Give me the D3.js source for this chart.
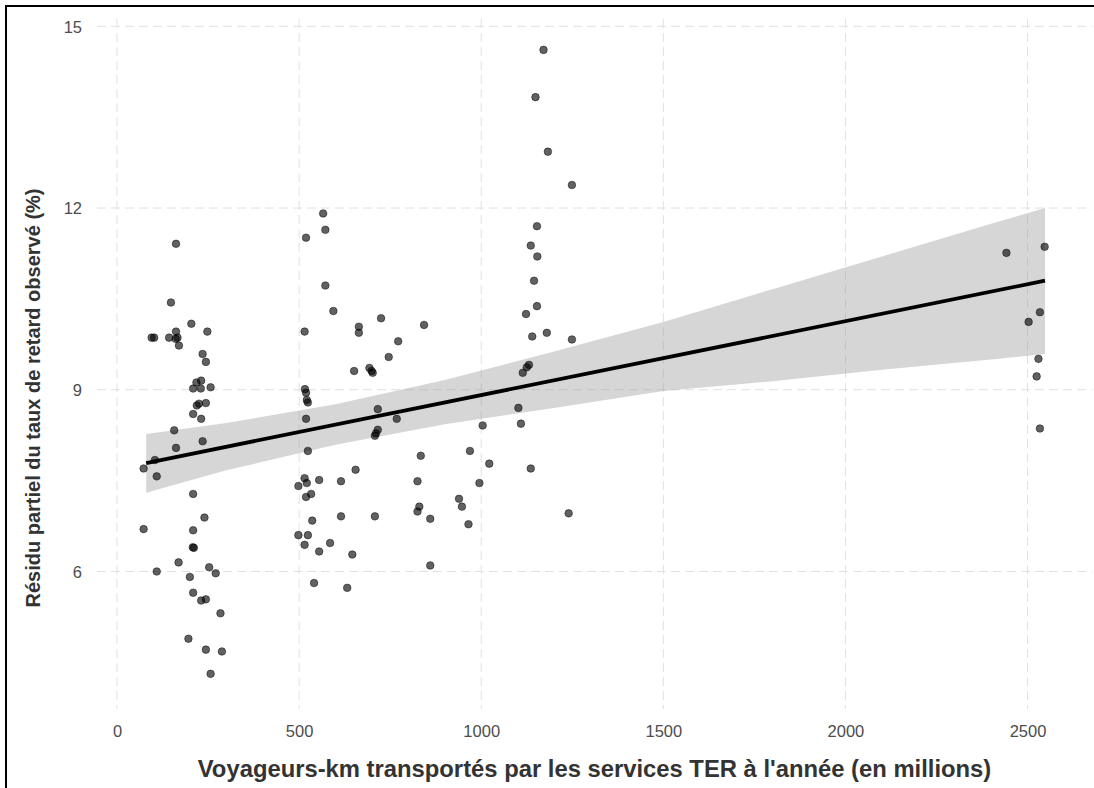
<!DOCTYPE html>
<html lang="fr">
<head>
<meta charset="utf-8">
<title>Résidu partiel du taux de retard</title>
<script src="https://cdn.jsdelivr.net/npm/d3@7"></script>
<style>
  html, body { margin: 0; padding: 0; background: #fff; }
  svg text { font-family: "Liberation Sans", Arial, sans-serif; }
  .tick-label { font-size: 16.5px; fill: #4d4d4d; }
  .axis-title { font-weight: bold; fill: #333333; }
  .x-title { font-size: 23.8px; }
  .y-title { font-size: 20px; }
</style>
</head>
<body>
<svg id="chart" width="1094" height="788"></svg>
<script>
// Voyageurs-km (millions) of each observation
const pointX = [
  162, 148, 204, 248, 162, 95, 102, 143, 166, 161, 170, 235, 244, 218, 231, 209, 230, 257,
  219, 225, 244, 209, 231, 157, 162, 235, 104, 73, 109, 209, 240, 73, 209, 208, 211, 169,
  109, 200, 253, 271, 209, 231, 244, 284, 196, 244, 288, 257,
  566, 572, 519, 572, 594, 515, 664, 664, 725, 843, 772, 746, 651, 693, 702, 699, 516, 519,
  521, 524, 519, 716, 768, 716, 708, 711, 524, 834, 655, 515, 521, 498, 555, 615, 825, 533,
  519, 830, 825, 860, 536, 615, 708, 498, 524, 515, 585, 555, 646, 860, 541, 632,
  1004, 969, 1022, 995, 939, 947, 965,
  1171, 1149, 1183, 1249, 1153, 1136, 1154, 1145, 1153, 1123, 1140, 1180, 1249, 1131, 1125, 1114,
  1102, 1109, 1136, 1240,
  2442, 2547, 2534, 2503, 2530, 2525, 2534
];
// partial residual of the delay rate (%)
const pointY = [
  11.41, 10.44, 10.09, 9.96, 9.96, 9.86, 9.86, 9.86, 9.86, 9.84, 9.73, 9.59, 9.46, 9.12, 9.15, 9.02, 9.02, 9.04,
  8.74, 8.77, 8.78, 8.60, 8.52, 8.33, 8.04, 8.15, 7.84, 7.70, 7.57, 7.28, 6.89, 6.70, 6.68, 6.40, 6.39, 6.15,
  6.00, 5.91, 6.07, 5.97, 5.65, 5.52, 5.54, 5.31, 4.89, 4.71, 4.68, 4.31,
  11.91, 11.64, 11.51, 10.72, 10.30, 9.96, 10.04, 9.94, 10.18, 10.07, 9.80, 9.54, 9.31, 9.36, 9.28, 9.31, 9.01, 8.95,
  8.83, 8.79, 8.52, 8.68, 8.52, 8.34, 8.24, 8.28, 7.99, 7.91, 7.68, 7.54, 7.46, 7.41, 7.51, 7.49, 7.49, 7.28,
  7.23, 7.07, 6.99, 6.87, 6.84, 6.91, 6.91, 6.60, 6.60, 6.44, 6.47, 6.33, 6.28, 6.10, 5.81, 5.73,
  8.41, 7.99, 7.78, 7.46, 7.20, 7.07, 6.78,
  14.61, 13.83, 12.93, 12.38, 11.70, 11.38, 11.20, 10.80, 10.38, 10.25, 9.88, 9.94, 9.83, 9.41, 9.37, 9.28,
  8.70, 8.44, 7.70, 6.96,
  11.26, 11.36, 10.28, 10.12, 9.51, 9.22, 8.36
];

// linear fit and its confidence band
const fitX = [80, 2548];
const fitY = [7.79, 10.80];
const bandX = [80, 300, 600, 900, 1200, 1500, 1800, 2100, 2400, 2548];
const bandLo = [7.30, 7.67, 8.09, 8.43, 8.70, 8.98, 9.14, 9.33, 9.50, 9.59];
const bandHi = [8.27, 8.45, 8.76, 9.16, 9.63, 10.12, 10.66, 11.20, 11.74, 12.00];

const xTicks = [0, 500, 1000, 1500, 2000, 2500];
const yTicks = [6, 9, 12, 15];

const xTitle = "Voyageurs-km transportés par les services TER à l'année (en millions)";
const yTitle = "Résidu partiel du taux de retard observé (%)";

class PartialResidualPlot {
    constructor(selector) {
        this.svg = d3.select(selector);
        this.width = +this.svg.attr("width");
        this.height = +this.svg.attr("height");
        // panel box in pixels
        this.panel = { left: 97, right: 1092, top: 19, bottom: 709 };

        this.xScale = d3.scaleLinear()
            .domain([-55, 2677])
            .range([this.panel.left, this.panel.right]);
        this.yScale = d3.scaleLinear()
            .domain([3.73, 15.12])
            .range([this.panel.bottom, this.panel.top]);
    }

    render() {
        this.drawGrid();
        this.drawBand();
        this.drawPoints();
        this.drawFit();
        this.drawAxes();
        this.drawFrame();
    }

    drawGrid() {
        const p = this.panel;
        const grid = this.svg.append("g")
            .attr("stroke", "#e0e0e0")
            .attr("stroke-width", 1)
            .attr("stroke-dasharray", "9,5");

        grid.selectAll("line.vgrid")
            .data(xTicks)
            .enter()
            .append("line")
            .attr("class", "vgrid")
            .attr("x1", d => this.xScale(d))
            .attr("x2", d => this.xScale(d))
            .attr("y1", p.top)
            .attr("y2", p.bottom);

        grid.selectAll("line.hgrid")
            .data(yTicks)
            .enter()
            .append("line")
            .attr("class", "hgrid")
            .attr("x1", p.left)
            .attr("x2", p.right)
            .attr("y1", d => this.yScale(d))
            .attr("y2", d => this.yScale(d));
    }

    drawBand() {
        const bandData = bandX.map((x, i) => ({ x: x, lo: bandLo[i], hi: bandHi[i] }));
        const area = d3.area()
            .x(d => this.xScale(d.x))
            .y0(d => this.yScale(d.lo))
            .y1(d => this.yScale(d.hi));

        this.svg.append("path")
            .datum(bandData)
            .attr("d", area)
            .attr("fill", "#999999")
            .attr("fill-opacity", 0.4);
    }

    drawPoints() {
        const points = pointX.map((x, i) => ({ x: x, y: pointY[i] }));
        this.svg.append("g")
            .selectAll("circle")
            .data(points)
            .enter()
            .append("circle")
            .attr("cx", d => this.xScale(d.x))
            .attr("cy", d => this.yScale(d.y))
            .attr("r", 3.8)
            .attr("fill", "#000")
            .attr("fill-opacity", 0.62)
            .attr("stroke", "#000")
            .attr("stroke-opacity", 0.5)
            .attr("stroke-width", 0.9);
    }

    drawFit() {
        const fitData = fitX.map((x, i) => ({ x: x, y: fitY[i] }));
        const line = d3.line()
            .x(d => this.xScale(d.x))
            .y(d => this.yScale(d.y));

        this.svg.append("path")
            .datum(fitData)
            .attr("d", line)
            .attr("fill", "none")
            .attr("stroke", "#000")
            .attr("stroke-width", 3.8);
    }

    drawAxes() {
        const p = this.panel;
        const fmt = d3.format("d");

        // x axis: labels only, no axis line
        const xAxis = d3.axisBottom(this.xScale).tickValues(xTicks).tickFormat(fmt).tickSize(0).tickPadding(0);
        const gx = this.svg.append("g")
            .attr("transform", `translate(0, 737)`)
            .call(xAxis);
        gx.select(".domain").remove();
        gx.selectAll("text")
            .attr("class", "tick-label")
            .attr("dy", 0)
            .attr("fill", null)
            .attr("font-family", null)
            .attr("font-size", null);

        const yAxis = d3.axisLeft(this.yScale).tickValues(yTicks).tickFormat(fmt).tickSize(0).tickPadding(0);
        const gy = this.svg.append("g")
            .attr("transform", `translate(82, 0)`)
            .call(yAxis);
        gy.select(".domain").remove();
        gy.selectAll("text")
            .attr("class", "tick-label")
            .attr("dy", "0.35em")
            .attr("fill", null)
            .attr("font-family", null)
            .attr("font-size", null);

        // axis titles
        this.svg.append("text")
            .attr("class", "axis-title x-title")
            .attr("x", (p.left + p.right) / 2)
            .attr("y", 777)
            .attr("text-anchor", "middle")
            .text(xTitle);

        this.svg.append("text")
            .attr("class", "axis-title y-title")
            .attr("transform", "translate(40, 398) rotate(-90)")
            .attr("text-anchor", "middle")
            .text(yTitle);
    }

    drawFrame() {
        // the picture shows only the top and left edges of a black frame
        this.svg.append("rect")
            .attr("x", 6)
            .attr("y", 6)
            .attr("width", this.width + 10)
            .attr("height", this.height + 10)
            .attr("fill", "none")
            .attr("stroke", "#000")
            .attr("stroke-width", 2);
    }
}

new PartialResidualPlot("#chart").render();
</script>
</body>
</html>
